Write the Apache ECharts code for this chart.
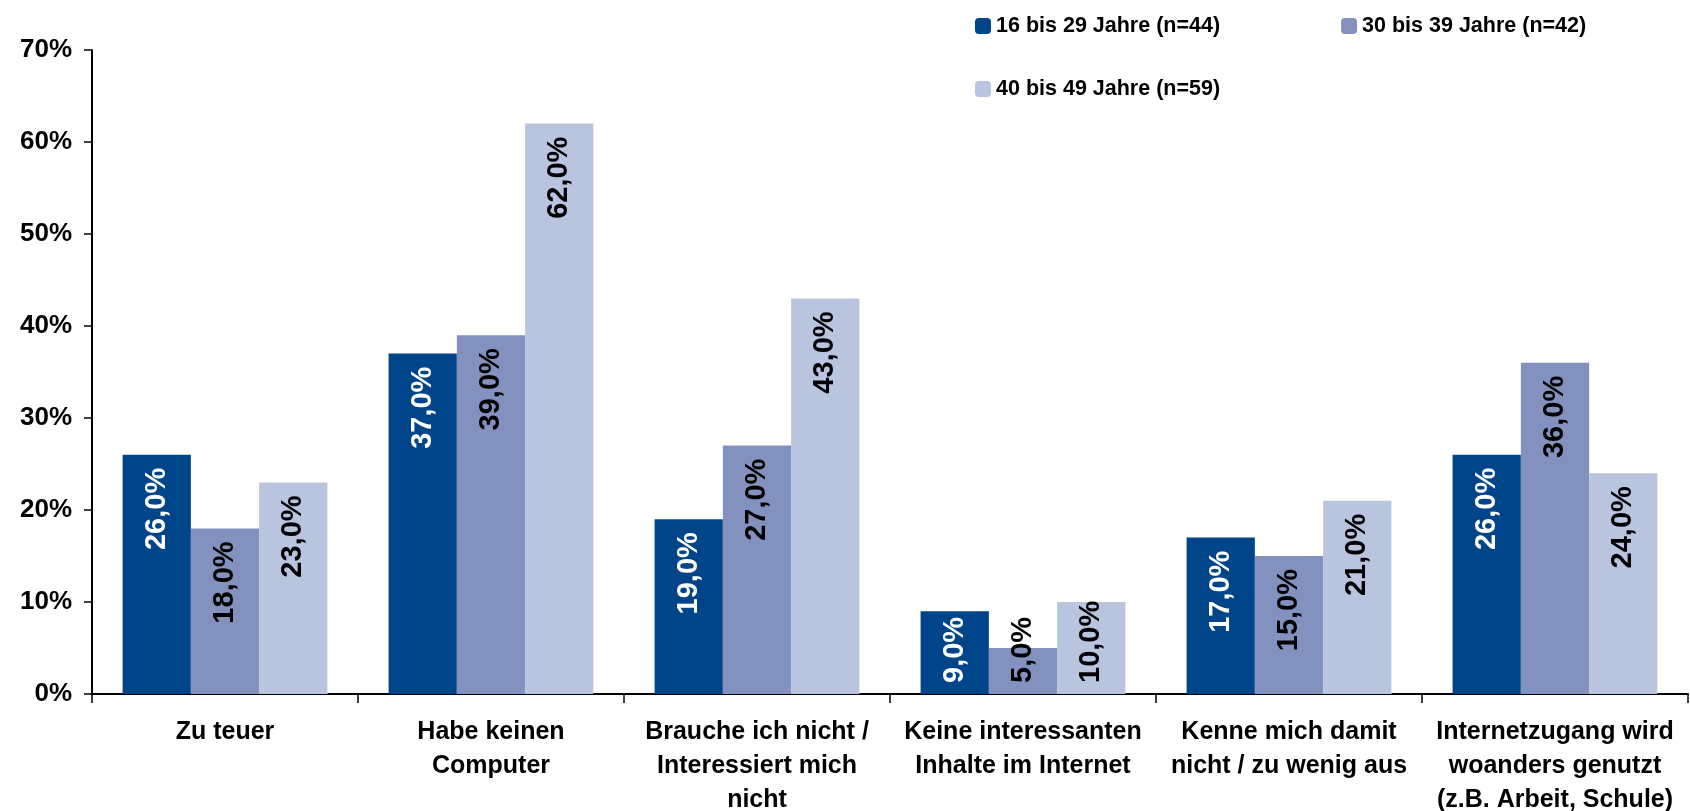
<!DOCTYPE html>
<html>
<head>
<meta charset="utf-8">
<script src="https://cdn.jsdelivr.net/npm/echarts@6/dist/echarts.min.js"></script>
<style>
  html, body { margin: 0; padding: 0; background: #fff; }
  #main { width: 1690px; height: 811px; }
</style>
</head>
<body>
<div id="main"></div>
<script>
var categories = [
  'Zu teuer',
  'Habe keinen\nComputer',
  'Brauche ich nicht /\nInteressiert mich\nnicht',
  'Keine interessanten\nInhalte im Internet',
  'Kenne mich damit\nnicht / zu wenig aus',
  'Internetzugang wird\nwoanders genutzt\n(z.B. Arbeit, Schule)'
];
var seriesNames = ['16 bis 29 Jahre (n=44)', '30 bis 39 Jahre (n=42)', '40 bis 49 Jahre (n=59)'];
var age16to29 = [26, 37, 19, 9, 17, 26];
var age30to39 = [18, 39, 27, 5, 15, 36];
var age40to49 = [23, 62, 43, 10, 21, 24];
var colors = ['#00458a', '#8391bf', '#b9c4de'];
var labelColors = ['#ffffff', '#000000', '#000000'];

var font = 'Arial, "Liberation Sans", sans-serif';

function fmt(v) {
  return v.toFixed(1).replace('.', ',') + '%';
}

// label sits at the top of the bar; short bars get it pushed up from the axis
function buildData(values) {
  return values.map(function (v) {
    var lab;
    if (v < 12) {
      lab = { position: 'insideBottom', align: 'left', distance: 11 };
    } else {
      lab = { position: 'insideTop', align: 'right', distance: 13 };
    }
    return { value: v, label: lab };
  });
}

function makeSeries(name, values, idx) {
  return {
    name: name,
    type: 'bar',
    barGap: '0%',
    barCategoryGap: '23%',
    itemStyle: { color: colors[idx] },
    label: {
      show: true,
      rotate: 90,
      verticalAlign: 'middle',
      color: labelColors[idx],
      fontFamily: font,
      fontWeight: 'bold',
      fontSize: 29,
      formatter: function (p) { return fmt(p.value); }
    },
    data: buildData(values)
  };
}

var myChart = echarts.init(document.getElementById('main'));
var option = {
  animation: false,
  backgroundColor: '#fff',
  color: colors,
  legend: [
    {
      data: [seriesNames[0], seriesNames[1]],
      left: 970,
      top: 10,
      itemWidth: 16,
      itemHeight: 16,
      itemGap: 121,
      itemStyle: { borderWidth: 0 },
      textStyle: { fontFamily: font, fontWeight: 'bold', fontSize: 21.5, color: '#000' }
    },
    {
      data: [seriesNames[2]],
      left: 970,
      top: 73,
      itemWidth: 16,
      itemHeight: 16,
      itemStyle: { borderWidth: 0 },
      textStyle: { fontFamily: font, fontWeight: 'bold', fontSize: 21.5, color: '#000' }
    }
  ],
  grid: { left: 92, right: 2, top: 50, bottom: 117, containLabel: false, outerBoundsMode: 'none' },
  xAxis: {
    type: 'category',
    data: categories,
    axisLine: { lineStyle: { color: '#000', width: 2 } },
    axisTick: { show: true, length: 9, lineStyle: { color: '#000', width: 1.5 } },
    axisLabel: {
      interval: 0,
      margin: 21,
      color: '#000',
      fontFamily: font,
      fontWeight: 'bold',
      fontSize: 25,
      lineHeight: 34
    }
  },
  yAxis: {
    type: 'value',
    min: 0,
    max: 70,
    interval: 10,
    splitLine: { show: false },
    axisLine: { show: true, lineStyle: { color: '#000', width: 2 } },
    axisTick: { show: true, length: 8, lineStyle: { color: '#000', width: 1.5 } },
    axisLabel: {
      formatter: '{value}%',
      margin: 20,
      color: '#000',
      fontFamily: font,
      fontWeight: 'bold',
      fontSize: 26
    }
  },
  series: [
    makeSeries(seriesNames[0], age16to29, 0),
    makeSeries(seriesNames[1], age30to39, 1),
    makeSeries(seriesNames[2], age40to49, 2)
  ]
};
myChart.setOption(option);
</script>
</body>
</html>
